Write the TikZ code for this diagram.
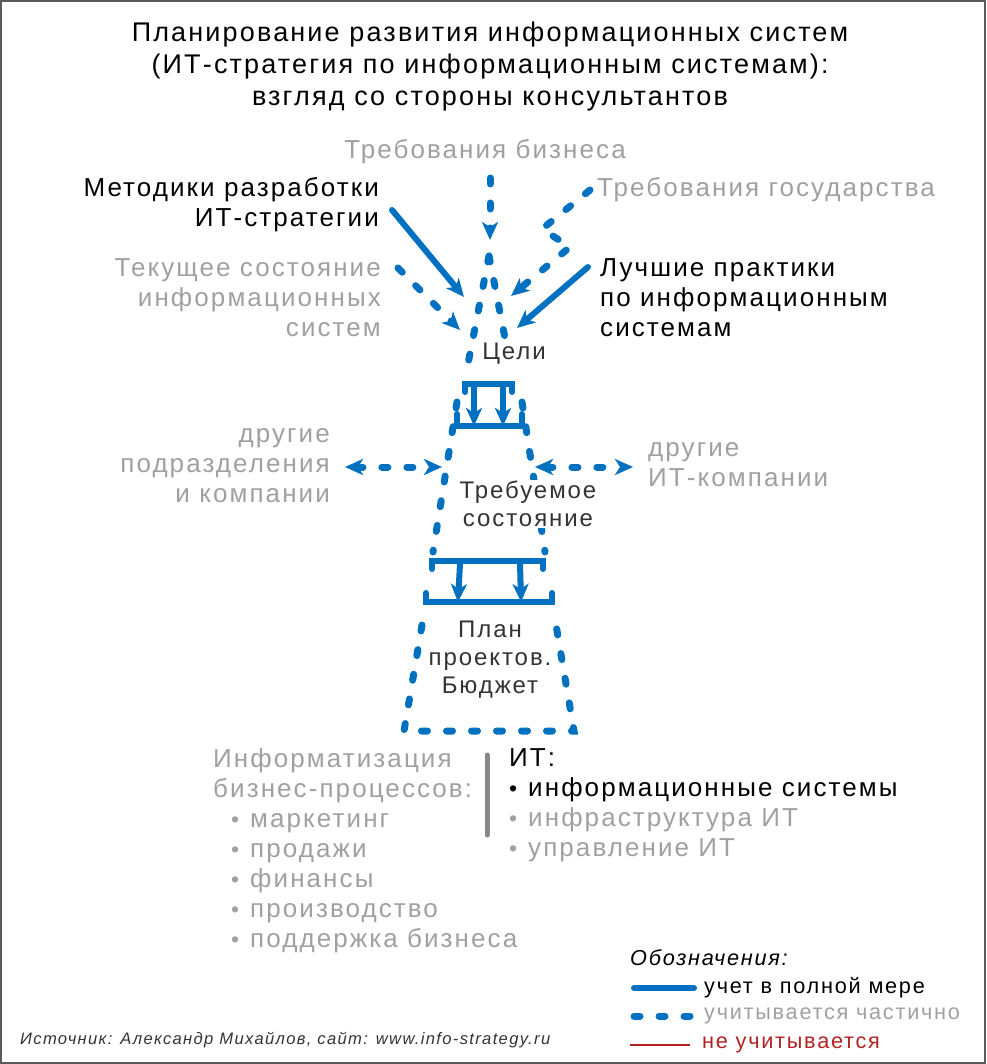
\documentclass[tikz,border=0pt]{standalone}
\usepackage{fontspec}
\setmainfont{Liberation Sans}[LetterSpace=8]
\usetikzlibrary{arrows.meta}
\definecolor{ib}{RGB}{0,112,192}
\definecolor{gt}{RGB}{160,160,160}
\definecolor{dt}{RGB}{51,51,51}
\definecolor{rd}{RGB}{178,34,34}
\definecolor{fr}{RGB}{90,90,90}
\newcommand{\lbul}{\makebox[19pt][l]{\fontsize{23}{23}\selectfont\textbullet}}
\begin{document}
\begin{tikzpicture}[x=1pt,y=-1pt,
  full/.style={draw=ib,line width=6pt,line cap=round},
  part/.style={draw=ib,line width=7pt,line cap=round,dash pattern=on 6pt off 19pt},
  tip/.style={-{Stealth[length=18pt,width=16pt,inset=5pt]}},
  bitip/.style={{Stealth[length=18pt,width=16pt,inset=5pt]}-{Stealth[length=18pt,width=16pt,inset=5pt]}},
  lbl/.style={font=\fontsize{26}{30}\selectfont,inner sep=0pt},
  inner/.style={font=\fontsize{24}{28}\selectfont,text=dt,inner sep=1pt,align=center},
  legtxt/.style={font=\fontsize{21.7}{26}\selectfont,anchor=west,inner sep=0pt}]
\useasboundingbox (0,0) rectangle (986,1064);
\draw[fr,line width=2pt] (1,1) rectangle (985,1063);
% title
\node[font=\fontsize{27}{32}\selectfont,align=center,inner sep=0pt] (title) at (490,67)
 {Планирование развития информационных систем\\(ИТ-стратегия по информационным системам):\\взгляд со стороны консультантов};
% input labels
\node[lbl,text=gt] (biz) at (485,152) {Требования бизнеса};
\node[lbl,align=right,anchor=east] (meth) at (379,205) {Методики разработки\\ИТ-стратегии};
\node[lbl,text=gt,anchor=west] (gov) at (597,190) {Требования государства};
\node[lbl,text=gt,align=right,anchor=east] (cur) at (381,298) {Текущее состояние\\информационных\\систем};
\node[lbl,align=left,anchor=west] (best) at (600,298) {Лучшие практики\\по информационным\\системам};
% coordinates
\coordinate (bizA) at (490,178);
\coordinate (bizB) at (490,240);
\coordinate (methA) at (392,210);
\coordinate (methB) at (464,297);
\coordinate (curA) at (398,268);
\coordinate (curB) at (460,330);
\coordinate (bestA) at (588,267);
\coordinate (bestB) at (517,328);
\coordinate (govA) at (590,190);
\coordinate (govK1) at (542,229);
\coordinate (govK2) at (570,247);
\coordinate (govB) at (511,296);
% goals triangle
\coordinate (apex) at (489,256);
\coordinate (gL) at (466,374);
\coordinate (gR) at (512,374);
\draw[part] (apex) -- (gL);
\draw[part] (apex) -- (gR);
\node[inner,fill=white] (goals) at (514,354) {Цели};
% arrows in
\draw[part,tip] (bizA) -- (bizB);
\draw[full,tip] (methA) -- (methB);
\draw[part,tip] (curA) -- (curB);
\draw[full,tip] (bestA) -- (bestB);
\draw[part,tip] (govA) -- (govK1) -- (govK2) -- (govB);
% goals bar
\coordinate (b1l) at (465,384);
\coordinate (b1r) at (512,384);
\draw[full] ([yshift=-8pt]b1l) -- (b1l) -- (b1r) -- ([yshift=-8pt]b1r);
% state top bar
\coordinate (b2l) at (457,426);
\coordinate (b2r) at (522,426);
\coordinate (a1s) at (474,387); \coordinate (a1e) at (474,424);
\coordinate (a2s) at (503,387); \coordinate (a2e) at (503,424);
\draw[full,tip,shorten >=-2pt] (a1s) -- (a1e);
\draw[full,tip,shorten >=-2pt] (a2s) -- (a2e);
\draw[full] ([yshift=12pt]b2l) -- (b2l) -- (b2r) -- ([yshift=12pt]b2r);
% state sides
\coordinate (s2lb) at (433,552);
\coordinate (s2rb) at (545,552);
\draw[part] ([yshift=24pt]b2l) -- (s2lb);
\draw[part] ([yshift=24pt]b2r) -- (s2rb);
\node[inner,fill=white] (state) at (528,504) {Требуемое\\состояние};
% state bottom bar
\coordinate (b3l) at (432,561);
\coordinate (b3r) at (543,561);
\draw[full] ([yshift=-8pt]b3l) -- (b3l) -- (b3r) -- ([yshift=-8pt]b3r);
\coordinate (a3s) at (460,564); \coordinate (a3e) at (458,600);
\coordinate (a4s) at (520,564); \coordinate (a4e) at (521,600);
\draw[full,tip,shorten >=-2pt] (a3s) -- (a3e);
\draw[full,tip,shorten >=-2pt] (a4s) -- (a4e);
% plan top bar
\coordinate (b4l) at (426,602);
\coordinate (b4r) at (552,602);
\draw[full] ([yshift=9pt]b4l) -- (b4l) -- (b4r) -- ([yshift=9pt]b4r);
\coordinate (p1) at (422,625);
\coordinate (p2) at (404,731);
\coordinate (p3) at (574,731);
\coordinate (p4) at (556,625);
\draw[part] (p1) -- (p2) -- (p3) -- (p4);
\node[inner] (plan) at (490,660) {План\\проектов.\\Бюджет};
% side exchanges
\node[lbl,text=gt,align=right,anchor=east] (dept) at (330,466) {другие\\подразделения\\и компании};
\node[lbl,text=gt,align=left,anchor=west] (itco) at (648,465) {другие\\ИТ-компании};
\coordinate (lxa) at (345,467); \coordinate (lxb) at (442,467);
\coordinate (rxa) at (535,467); \coordinate (rxb) at (633,467);
\draw[part,bitip] (lxa) -- (lxb);
\draw[part,bitip] (rxa) -- (rxb);
% bottom lists
\node[lbl,text=gt,align=left,anchor=north west] (infz) at (213,748)
 {Информатизация\\бизнес-процессов:\\
 \hspace*{18pt}\lbul маркетинг\\
 \hspace*{18pt}\lbul продажи\\
 \hspace*{18pt}\lbul финансы\\
 \hspace*{18pt}\lbul производство\\
 \hspace*{18pt}\lbul поддержка бизнеса};
\coordinate (sepT) at (487,755);
\coordinate (sepB) at (487,835);
\draw[gt!85!black,line width=5pt,line cap=round] (sepT) -- (sepB);
\node[lbl,align=left,anchor=north west] (it) at (509,748)
 {ИТ:\\\lbul информационные системы\\
 \textcolor{gt}{\lbul инфраструктура ИТ}\\
 \textcolor{gt}{\lbul управление ИТ}};
% legend
\node[legtxt,font=\fontsize{21.7}{26}\selectfont\itshape] (leg) at (630,958) {Обозначения:};
\coordinate (l1a) at (634,988); \coordinate (l1b) at (694,988);
\coordinate (l2a) at (634,1016); \coordinate (l2b) at (694,1016);
\coordinate (l3a) at (630,1045); \coordinate (l3b) at (690,1045);
\draw[full] (l1a) -- (l1b);
\draw[part] (l2a) -- (l2b);
\draw[rd,line width=2pt] (l3a) -- (l3b);
\node[legtxt] (t1) at (704,988) {учет в полной мере};
\node[legtxt,text=gt] (t2) at (704,1016) {учитывается частично};
\node[legtxt,text=rd] (t3) at (702,1045) {не учитывается};
% source
\node[font=\fontsize{16.6}{20}\selectfont\itshape,anchor=west,inner sep=0pt,text=dt] (src) at (20,1040)
 {Источник: Александр Михайлов, сайт: www.info-strategy.ru};
\end{tikzpicture}
\end{document}
